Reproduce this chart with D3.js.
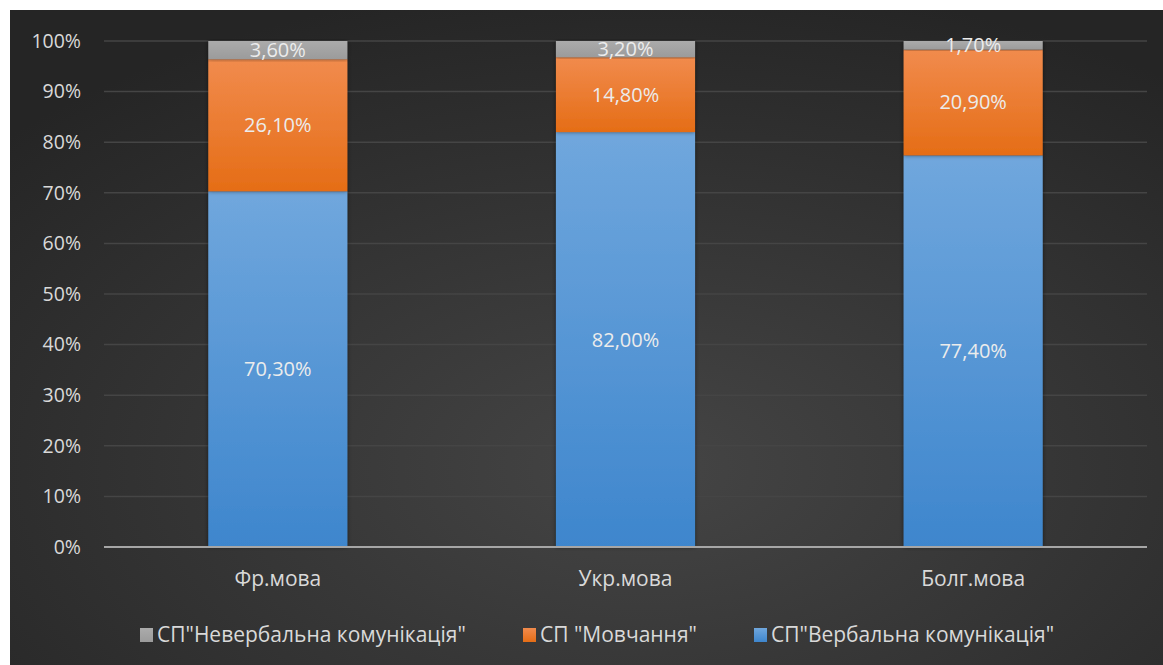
<!DOCTYPE html>
<html>
<head>
<meta charset="utf-8">
<script src="https://cdn.jsdelivr.net/npm/d3@7"></script>
<style>
  html, body { margin: 0; padding: 0; background: #fff; }
  svg { display: block; }
  text { font-family: "Open Sans", "Noto Sans", sans-serif; }
</style>
</head>
<body>
<div class="chart"></div>
<script>
// -----------------------------------------------------------------------
// Data
// -----------------------------------------------------------------------

const categories = ["Фр.мова", "Укр.мова", "Болг.мова"];

// series names, bottom to top in the stack
const seriesNames = [
  "СП\"Вербальна комунікація\"",
  "СП \"Мовчання\"",
  "СП\"Невербальна комунікація\""
];

const verbal = [70.3, 82.0, 77.4];
const silence = [26.1, 14.8, 20.9];
const nonverbal = [3.6, 3.2, 1.7];

const yTicks = [0, 10, 20, 30, 40, 50, 60, 70, 80, 90, 100];

// legend order as in the picture
const legendOrder = [2, 1, 0];

// -----------------------------------------------------------------------
// Layout
// -----------------------------------------------------------------------

const WIDTH = 1163;
const HEIGHT = 665;
const margin = { top: 41, left: 104, right: 16, bottom: 118 };

const svg = d3.select(".chart")
  .append("svg")
  .attr("width", WIDTH)
  .attr("height", HEIGHT);

const defs = svg.append("defs");

// dark background with a soft lighter middle
const bg = defs.append("radialGradient")
  .attr("id", "bg")
  .attr("cx", "55%").attr("cy", "70%").attr("r", "75%");
bg.append("stop").attr("offset", "0%").attr("stop-color", "#454545");
bg.append("stop").attr("offset", "100%").attr("stop-color", "#252525");

const colors = [
  ["#70a7dd", "#3e86cd"],
  ["#f18b4d", "#e56d16"],
  ["#ababab", "#9b9b9b"]
];
colors.forEach((c, i) => {
  const g = defs.append("linearGradient")
    .attr("id", "grad" + i)
    .attr("x1", 0).attr("y1", 0).attr("x2", 0).attr("y2", 1);
  g.append("stop").attr("offset", "0%").attr("stop-color", c[0]);
  g.append("stop").attr("offset", "100%").attr("stop-color", c[1]);
});

const shadow = defs.append("filter").attr("id", "shadow")
  .attr("x", "-10%").attr("y", "-10%").attr("width", "120%").attr("height", "120%");
shadow.append("feDropShadow")
  .attr("dx", 0).attr("dy", 0).attr("stdDeviation", 2)
  .attr("flood-color", "#000").attr("flood-opacity", 0.5);

svg.append("rect")
  .attr("x", 10).attr("y", 10)
  .attr("width", WIDTH - 10).attr("height", HEIGHT - 10)
  .attr("fill", "url(#bg)");

const x = d3.scaleBand()
  .domain(categories)
  .range([margin.left, WIDTH - margin.right])
  .paddingInner(0.6)
  .paddingOuter(0.3);

const y = d3.scaleLinear()
  .domain([0, 100])
  .range([HEIGHT - margin.bottom, margin.top]);

// gridlines + y labels
svg.append("g")
  .selectAll("line")
  .data(yTicks.filter(d => d > 0))
  .join("line")
  .attr("x1", margin.left)
  .attr("x2", WIDTH - margin.right)
  .attr("y1", d => y(d))
  .attr("y2", d => y(d))
  .attr("stroke", "#454545")
  .attr("stroke-width", 1.5);

svg.append("g")
  .selectAll("text")
  .data(yTicks)
  .join("text")
  .attr("x", 81)
  .attr("y", d => y(d))
  .attr("dy", "0.35em")
  .attr("text-anchor", "end")
  .attr("fill", "#d9d9d9")
  .attr("font-size", 19.5)
  .text(d => d + "%");

// stacked bars
const table = categories.map((c, i) => ({
  cat: c, s0: verbal[i], s1: silence[i], s2: nonverbal[i]
}));
const stack = d3.stack().keys(["s0", "s1", "s2"])(table);

const layers = svg.append("g")
  .selectAll("g")
  .data(stack)
  .join("g")
  .attr("fill", (d, i) => `url(#grad${i})`);

layers.selectAll("rect")
  .data(d => d)
  .join("rect")
  .attr("x", d => x(d.data.cat))
  .attr("width", x.bandwidth())
  .attr("y", d => y(d[1]))
  .attr("height", d => y(d[0]) - y(d[1]))
  .attr("filter", "url(#shadow)");

// value labels
const fmt = v => v.toFixed(2).replace(".", ",") + "%";
layers.selectAll("text")
  .data(d => d.map(p => ({ p, key: d.key })))
  .join("text")
  .attr("x", d => x(d.p.data.cat) + x.bandwidth() / 2)
  .attr("y", d => (y(d.p[0]) + y(d.p[1])) / 2)
  .attr("dy", "0.35em")
  .attr("text-anchor", "middle")
  .attr("fill", "#ececec")
  .attr("font-size", 20)
  .text(d => fmt(d.p.data[d.key]));

// x axis line
svg.append("line")
  .attr("x1", margin.left)
  .attr("x2", WIDTH - margin.right)
  .attr("y1", y(0))
  .attr("y2", y(0))
  .attr("stroke", "#a6a6a6")
  .attr("stroke-width", 2);

// category labels
svg.append("g")
  .selectAll("text")
  .data(categories)
  .join("text")
  .attr("x", d => x(d) + x.bandwidth() / 2)
  .attr("y", 579)
  .attr("dy", "0.35em")
  .attr("text-anchor", "middle")
  .attr("fill", "#d9d9d9")
  .attr("font-size", 21)
  .text(d => d);

// legend
const legendX = [140, 523, 754];
const legend = svg.append("g")
  .selectAll("g")
  .data(legendOrder)
  .join("g")
  .attr("transform", (d, i) => `translate(${legendX[i]}, 635)`);

legend.append("rect")
  .attr("x", 0).attr("y", -7)
  .attr("width", 13).attr("height", 14)
  .attr("fill", d => `url(#grad${d})`);

legend.append("text")
  .attr("x", 17)
  .attr("dy", "0.35em")
  .attr("fill", "#d9d9d9")
  .attr("font-size", 21)
  .text(d => seriesNames[d]);
</script>
</body>
</html>
